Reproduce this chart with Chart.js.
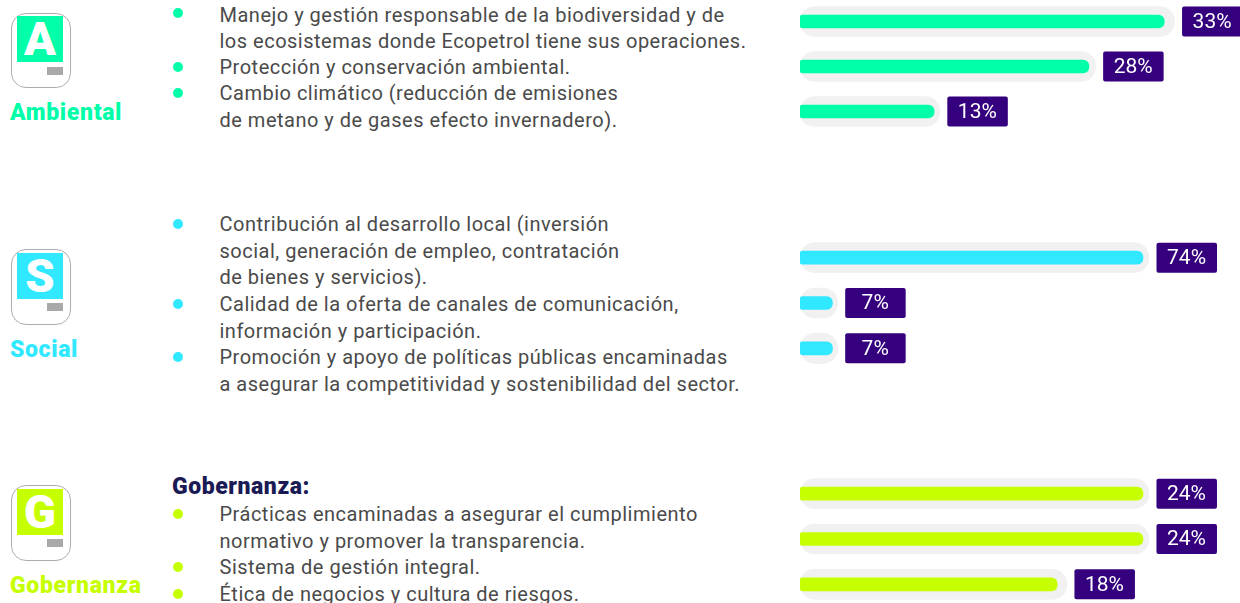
<!DOCTYPE html>
<html>
<head>
<meta charset="utf-8">
<script src="https://cdn.jsdelivr.net/npm/chart.js@4"></script>
<style>
html,body{margin:0;padding:0;background:#fff;width:1240px;height:603px;overflow:hidden;font-family:Roboto,sans-serif;}
canvas{position:absolute;left:800px;}
.line{position:absolute;left:219.5px;white-space:nowrap;font-size:20px;line-height:26px;color:#4a4a4a;letter-spacing:.5px;}
.dot{position:absolute;left:173px;width:10px;height:10px;border-radius:50%;}
.head{position:absolute;left:172px;white-space:nowrap;font-size:23px;line-height:26px;font-weight:900;color:#1a1a55;letter-spacing:.55px;}
.box{position:absolute;left:10.5px;width:58px;height:73.5px;border:1.5px solid #adadad;border-radius:15px;box-sizing:content-box;}
.sq{position:absolute;left:17px;width:46px;height:46px;color:#fff;font-weight:900;font-size:47px;line-height:46px;text-align:center;}
.gray{position:absolute;left:47px;width:16px;height:8px;background:#a9a9a9;}
.name{position:absolute;left:10px;white-space:nowrap;font-size:23px;line-height:26px;font-weight:900;letter-spacing:.65px;}
</style>
</head>
<body>
<canvas id="chartA" width="440" height="135" style="top:-1px"></canvas>
<canvas id="chartS" width="440" height="136" style="top:235px"></canvas>
<canvas id="chartG" width="440" height="136" style="top:471px"></canvas>
<script>
var rows=['1','2','3'];

// porcentajes que se leen en las etiquetas
var ambientalPct=[33,28,13];
var socialPct=[74,7,7];
var gobernanzaPct=[24,24,18];

// largo de las barras tal como estan dibujadas (el 33% viene mas largo que su etiqueta)
var ambientalBar=[35.3,28,13];
var socialBar=[74,7,7];
var gobernanzaBar=[24,24,18];

// fondo gris de cada barra
var ambientalTrack=[36.3,28.65,13.55];
var socialTrack=[75.3,8.13,8.13];
var gobernanzaTrack=[24.42,24.42,18.68];

var ambientalLines=[
	['Manejo y gestión responsable de la biodiversidad y de',1,15],
	['los ecosistemas donde Ecopetrol tiene sus operaciones.',0,41],
	['Protección y conservación ambiental.',1,67],
	['Cambio climático (reducción de emisiones',1,93],
	['de metano y de gases efecto invernadero).',0,120]
];
var socialLines=[
	['Contribución al desarrollo local (inversión',1,224],
	['social, generación de empleo, contratación',0,251],
	['de bienes y servicios).',0,277],
	['Calidad de la oferta de canales de comunicación,',1,304],
	['información y participación.',0,331],
	['Promoción y apoyo de políticas públicas encaminadas',1,357],
	['a asegurar la competitividad y sostenibilidad del sector.',0,384]
];
var gobernanzaLines=[
	['Prácticas encaminadas a asegurar el cumplimiento',1,514],
	['normativo y promover la transparencia.',0,541],
	['Sistema de gestión integral.',1,567],
	['Ética de negocios y cultura de riesgos.',1,594]
];

var green='#00ffa8',cyan='#30e8ff',lime='#c6ff00';

var badges={
	id:'badges',
	afterDatasetsDraw:function(chart,args,opts){
		var c=chart.ctx;
		var tracks=chart.getDatasetMeta(0).data;
		for(var i=0;i<tracks.length;i++){
			var x=tracks[i].x+7.5,y=tracks[i].y;
			c.fillStyle='#34007e';
			c.beginPath();
			c.roundRect(x,y-15,60.5,30,2);
			c.fill();
			c.fillStyle='#fff';
			c.font='400 21px Roboto';
			c.textAlign='center';
			c.textBaseline='middle';
			c.fillText(opts.pct[i]+'%',x+30,y+1);
		}
	}
};

function barChart(id,track,bar,pct,color,max){
	new Chart(document.getElementById(id),{
		type:'bar',
		data:{
			labels:rows,
			datasets:[
				{data:track,backgroundColor:'#f1f1f1',barThickness:30,borderRadius:15,borderSkipped:false,grouped:false,order:2},
				{data:bar,backgroundColor:color,barThickness:13,borderRadius:{topLeft:3,bottomLeft:3,topRight:6,bottomRight:6},borderSkipped:false,grouped:false,order:1}
			]
		},
		options:{
			indexAxis:'y',
			responsive:false,
			animation:false,
			layout:{padding:0},
			scales:{
				x:{display:false,min:0,max:max},
				y:{display:false}
			},
			plugins:{legend:{display:false},tooltip:{enabled:false},badges:{pct:pct}}
		},
		plugins:[badges]
	});
}

barChart('chartA',ambientalTrack,ambientalBar,ambientalPct,green,42.64);
barChart('chartS',socialTrack,socialBar,socialPct,cyan,94.93);
barChart('chartG',gobernanzaTrack,gobernanzaBar,gobernanzaPct,lime,30.79);

function add(cls,txt,css){
	var d=document.createElement('div');
	d.className=cls;
	d.textContent=txt;
	d.style.cssText=css;
	document.body.appendChild(d);
}
function lines(list,color){
	list.forEach(function(l){
		add('line',l[0],'top:'+(l[2]-13)+'px');
		if(l[1])add('dot','','top:'+(l[2]-(l[2]<30?7:5))+'px;background:'+color);
	});
}
function icon(top,letter,name,nameTop,color){
	add('box','','top:'+top+'px');
	add('sq',letter,'top:'+(top+3.5)+'px;background:'+color);
	add('gray','','top:'+(top+54)+'px');
	add('name',name,'top:'+nameTop+'px;color:'+color);
}

lines(ambientalLines,green);
lines(socialLines,cyan);
lines(gobernanzaLines,lime);
add('head','Gobernanza:','top:474px');
icon(12.5,'A','Ambiental',100,green);
icon(249,'S','Social',337,cyan);
icon(485,'G','Gobernanza',573,lime);
</script>
</body>
</html>
